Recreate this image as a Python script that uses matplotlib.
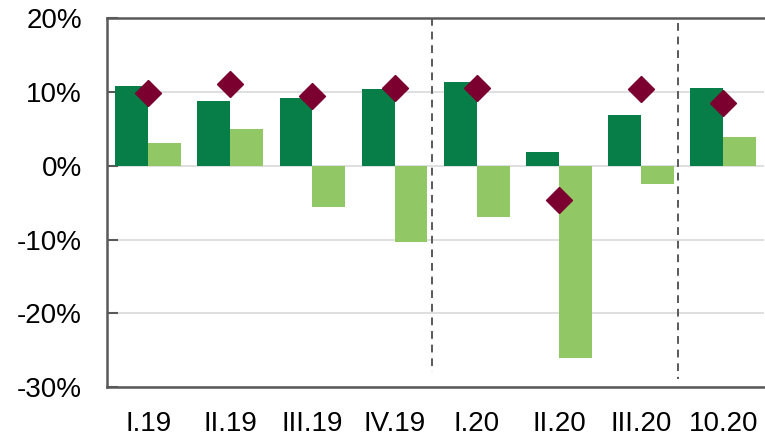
import numpy as np
import matplotlib.pyplot as plt

plt.rcParams['font.family'] = ['Liberation Sans', 'DejaVu Sans']

# Data (percent)
categories = ["I.19", "II.19", "III.19", "IV.19", "I.20", "II.20", "III.20", "10.20"]
dark_values = [10.8, 8.8, 9.2, 10.5, 11.4, 1.9, 6.9, 10.6]
light_values = [3.1, 5.0, -5.6, -10.3, -7.0, -26.1, -2.4, 3.9]
diamond_values = [9.9, 11.1, 9.5, 10.6, 10.6, -4.6, 10.4, 8.5]

dark_green = "#077D48"
light_green = "#92C765"
maroon = "#7B0030"
spine_gray = "#595959"

x = np.arange(len(categories))
width = 0.4

fig = plt.figure(figsize=(7.65, 4.36), dpi=100)
ax = fig.add_axes([0.140, 0.1124, 0.859, 0.8452])

ax.bar(x - width / 2, dark_values, width, color=dark_green, zorder=3)
ax.bar(x + width / 2, light_values, width, color=light_green, zorder=3)
ax.plot(x, diamond_values, linestyle="none", marker="D", markersize=13,
        color=maroon, zorder=4)

# dashed separators between years / periods
ax.plot([3.45, 3.45], [20, -28], color=spine_gray, linestyle=(0, (4, 3)),
        linewidth=1.4, zorder=2)
ax.plot([6.45, 6.45], [19.4, -28.9], color=spine_gray, linestyle=(0, (4, 3)),
        linewidth=1.4, zorder=2)

ax.set_xlim(-0.5, 7.5)
ax.set_ylim(-30, 20)
ax.set_yticks([-30, -20, -10, 0, 10, 20])
ax.set_yticklabels([f"{v}%" for v in [-30, -20, -10, 0, 10, 20]])
ax.set_xticks(x)
ax.set_xticklabels(categories)

ax.grid(axis="y", color="#D9D9D9", linewidth=1.2, zorder=1)
ax.set_axisbelow(True)

for side in ["left", "top", "bottom"]:
    ax.spines[side].set_color(spine_gray)
    ax.spines[side].set_linewidth(1.8)
ax.spines["right"].set_visible(False)

ax.tick_params(axis="y", direction="in", length=8, width=1.5, color=spine_gray,
               labelsize=20, pad=18)
ax.tick_params(axis="x", length=0, labelsize=20, pad=17)

fig.savefig("out.png", dpi=100)
